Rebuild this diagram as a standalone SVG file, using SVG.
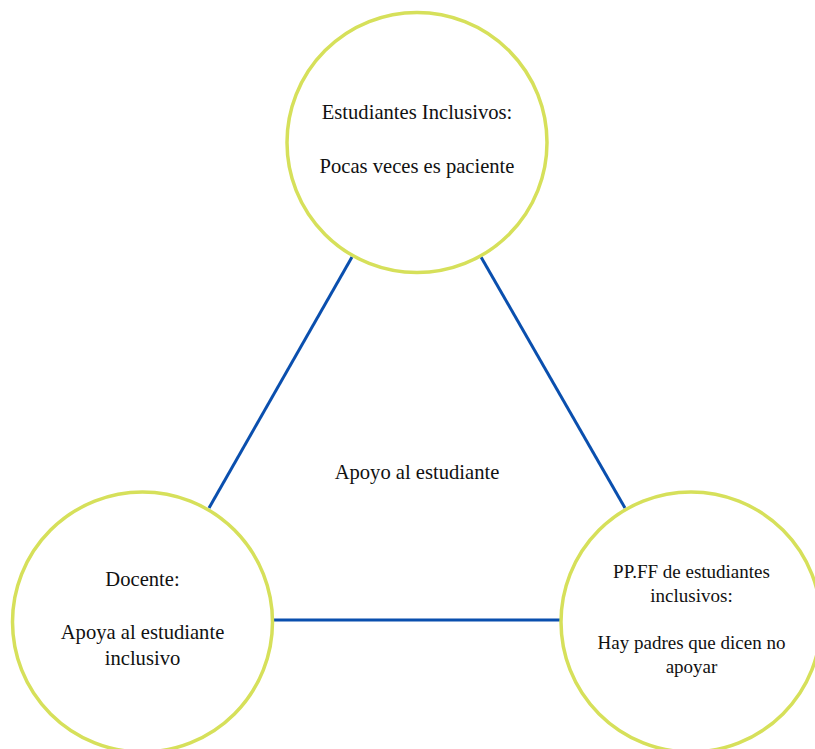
<svg xmlns="http://www.w3.org/2000/svg" width="815" height="749" viewBox="0 0 815 749">
  <style>
    .node { fill: #ffffff; stroke: #d6e05a; stroke-width: 3.5; }
    .link { stroke: #0a4fae; stroke-width: 3; fill: none; }
    text { font-family: "Liberation Serif", "Times New Roman", serif; font-size: 20.6px; fill: #111111; text-anchor: middle; }
    .small { font-size: 19px; }
  </style>
  <rect width="815" height="749" fill="#ffffff"/>
  <g id="connectors">
    <line class="link" x1="352" y1="257" x2="209" y2="508"/>
    <line class="link" x1="481" y1="257" x2="625" y2="508"/>
    <line class="link" x1="273" y1="620" x2="560" y2="620"/>
  </g>
  <text x="417" y="479">Apoyo al estudiante</text>
  <g id="estudiantes">
    <circle class="node" cx="417" cy="142.5" r="130"/>
    <text x="417" y="119">Estudiantes Inclusivos:</text>
    <text x="417" y="173">Pocas veces es paciente</text>
  </g>
  <g id="docente">
    <circle class="node" cx="142.5" cy="622" r="130"/>
    <text x="142.5" y="586">Docente:</text>
    <text x="142.5" y="639">Apoya al estudiante</text>
    <text x="142.5" y="665">inclusivo</text>
  </g>
  <g id="ppff">
    <circle class="node" cx="691" cy="622" r="130"/>
    <text class="small" x="691.5" y="578">PP.FF de estudiantes</text>
    <text class="small" x="691.5" y="602">inclusivos:</text>
    <text class="small" x="691.5" y="649">Hay padres que dicen no</text>
    <text class="small" x="691.5" y="673">apoyar</text>
  </g>
</svg>
